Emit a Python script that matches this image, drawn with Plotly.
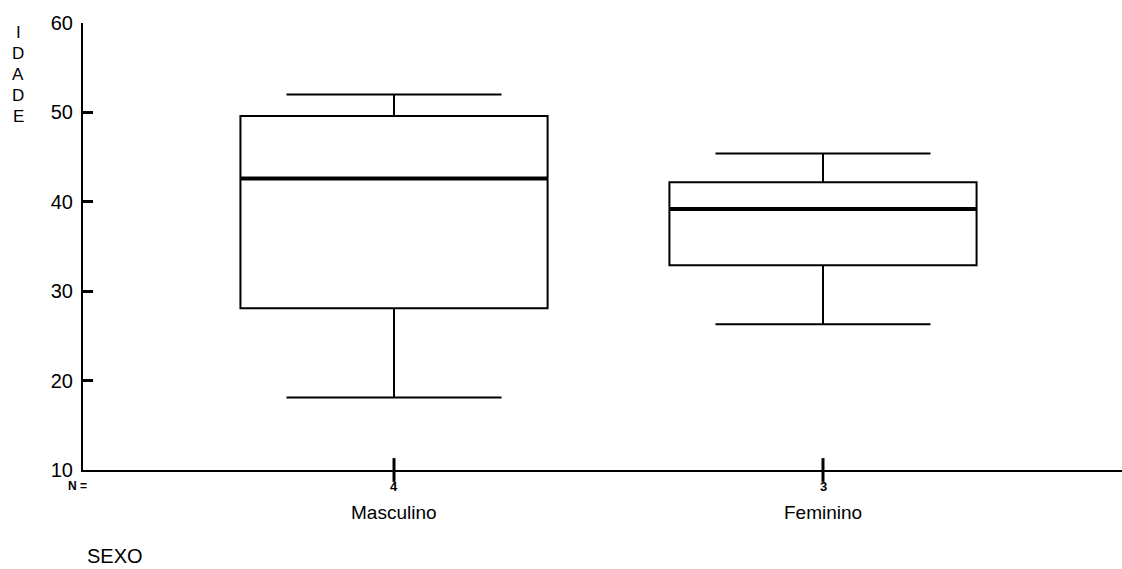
import plotly.graph_objects as go

# Age (IDADE) by sex (SEXO): five-number summaries per group
groups = ["Masculino", "Feminino"]
n_counts = [4, 3]
lower_whisker = [18.1, 26.3]
q1 = [28.1, 32.9]
median = [42.6, 39.2]
q3 = [49.6, 42.2]
upper_whisker = [52.0, 45.4]
y_ticks = [10, 20, 30, 40, 50, 60]

positions = [1, 2]
box_width = 0.716
x_range = [0.275, 2.697]
y_range = [10, 60]
font_family = "Liberation Sans, Arial, Helvetica, sans-serif"

fig = go.Figure()

fig.add_trace(go.Box(
    x=positions,
    q1=q1, median=median, q3=q3,
    lowerfence=lower_whisker, upperfence=upper_whisker,
    width=box_width,
    whiskerwidth=0.70,
    fillcolor="rgba(255,255,255,0)",
    line=dict(color="black", width=2),
    boxpoints=False,
    hoverinfo="skip",
    showlegend=False,
))

# heavier median bars
for x, m in zip(positions, median):
    fig.add_trace(go.Scatter(
        x=[x - box_width / 2, x + box_width / 2], y=[m, m],
        mode="lines", line=dict(color="black", width=4),
        hoverinfo="skip", showlegend=False,
    ))

# category tick marks crossing the x axis
fig.add_trace(go.Scatter(
    x=positions, y=[y_range[0]] * len(positions),
    mode="markers",
    marker=dict(symbol="line-ns", size=17, line=dict(color="black", width=3)),
    cliponaxis=False, hoverinfo="skip", showlegend=False,
))

# N counts and group names below the axis
for x, n, g in zip(positions, n_counts, groups):
    fig.add_annotation(x=x, y=y_range[0], xref="x", yref="y",
                       yanchor="middle", yshift=-16,
                       text=f"<b>{n}</b>", showarrow=False,
                       font=dict(size=13, color="black", family=font_family))
    fig.add_annotation(x=x, y=y_range[0], xref="x", yref="y",
                       yanchor="middle", yshift=-42,
                       text=g, showarrow=False,
                       font=dict(size=19, color="black", family=font_family))

fig.add_annotation(x=0, y=0, xref="paper", yref="paper",
                   xanchor="center", yanchor="middle", xshift=-6, yshift=-16,
                   text="<b>N =</b>", showarrow=False,
                   font=dict(size=12, color="black", family=font_family))

fig.add_annotation(x=0, y=0, xref="paper", yref="paper",
                   xanchor="center", yanchor="middle", xshift=32, yshift=-86,
                   text="SEXO", showarrow=False,
                   font=dict(size=20, color="black", family=font_family))

# vertical stacked axis title
title_letters = list("IDADE")
for i, ch in enumerate(title_letters):
    fig.add_annotation(x=0, y=1, xref="paper", yref="paper",
                       xanchor="center", yanchor="middle",
                       xshift=-65, yshift=-9 - 21 * i,
                       text=ch, showarrow=False,
                       font=dict(size=17, color="black", family=font_family))

fig.update_layout(
    width=1122, height=569,
    margin=dict(l=83, r=0, t=23, b=99),
    paper_bgcolor="white", plot_bgcolor="white",
    font=dict(family=font_family, color="black"),
    showlegend=False,
    xaxis=dict(
        range=x_range, showgrid=False, zeroline=False,
        showline=True, linecolor="black", linewidth=2,
        showticklabels=False, ticks="",
    ),
    yaxis=dict(
        range=y_range, tickvals=y_ticks, showgrid=False, zeroline=False,
        showline=True, linecolor="black", linewidth=2,
        ticks="inside", ticklen=10, tickwidth=3, tickcolor="black",
        tickfont=dict(size=20, color="black", family=font_family),
        ticklabelstandoff=4,
    ),
)

fig.write_html("out.html")
